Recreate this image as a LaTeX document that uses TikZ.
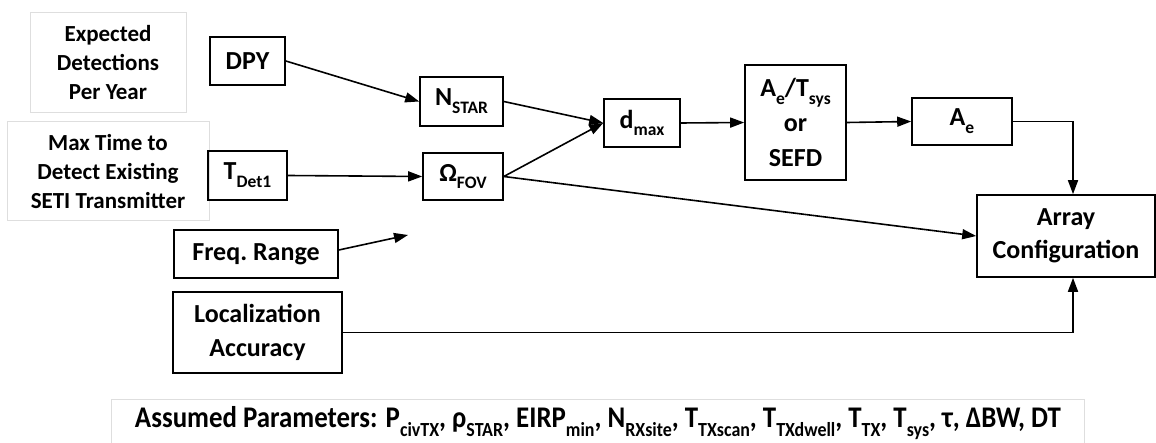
\documentclass[tikz,border=0pt]{standalone}
\usepackage{fontspec}
\setmainfont{Carlito}
\usepackage{graphicx}
\usetikzlibrary{arrows.meta,calc}
\newcommand{\sbs}[1]{\raisebox{-0.3em}{\fontsize{17.5}{17.5}\selectfont #1}}
\newcommand{\sbsb}[1]{\raisebox{-0.3em}{\fontsize{20}{20}\selectfont #1}}
\begin{document}
\begin{tikzpicture}[x=1pt,y=-1pt,
  every node/.style={font=\fontsize{26}{33}\selectfont\bfseries, align=center, inner sep=0pt},
  blk/.style={draw=black, line width=1.6pt},
  gbox/.style={draw=black!13, line width=1pt, font=\fontsize{23}{29}\selectfont\bfseries},
  arr/.style={line width=1.6pt, -{Triangle[length=14pt,width=10pt]}}]
\useasboundingbox (0,0) rectangle (1156,443);
\node[gbox, minimum width=156pt, minimum height=100pt] (exp) at (108,63) {Expected\\Detections\\Per Year};
\node[gbox, minimum width=202pt, minimum height=99pt] (maxt) at (108,171.5) {Max Time to\\Detect Existing\\SETI Transmitter};
\node[blk, minimum width=75pt, minimum height=48pt] (dpy) at (247.5,61) {DPY};
\node[blk, minimum width=79pt, minimum height=49pt] (tdet) at (247.5,175.5) {T\sbs{Det1}};
\node[blk, minimum width=83pt, minimum height=49pt] (nstar) at (461.5,101.5) {N\sbs{STAR}};
\node[blk, minimum width=80pt, minimum height=47pt] (omega) at (463,176.5) {Ω\sbs{FOV}};
\node[blk, minimum width=76pt, minimum height=48pt] (dmax) at (642,123) {d\sbs{max}};
\node[blk, minimum width=101pt, minimum height=115pt, font=\fontsize{26}{35}\selectfont\bfseries] (aet) at (795.5,122.5) {A\sbs{e}/T\sbs{sys}\\or\\SEFD};
\node[blk, minimum width=100pt, minimum height=47pt] (ae) at (962,121.5) {A\sbs{e}};
\node[blk, minimum width=178pt, minimum height=82pt] (arr) at (1066,236) {Array\\Configuration};
\node[blk, minimum width=164pt, minimum height=48pt] (freq) at (256,254) {Freq.\ Range};
\node[blk, minimum width=169pt, minimum height=81pt, font=\fontsize{26}{34}\selectfont\bfseries] (loc) at (257.5,332.5) {Localization\\Accuracy};
\node[gbox, minimum width=973pt, minimum height=48pt, anchor=north west, font=\fontsize{30}{32}\selectfont\bfseries] (ass) at (111,399)
  {\raisebox{-5pt}{\resizebox{926pt}{\height}{Assumed Parameters: P\sbsb{civTX}, ρ\sbsb{STAR}, EIRP\sbsb{min}, N\sbsb{RXsite}, T\sbsb{TXscan}, T\sbsb{TXdwell}, T\sbsb{TX}, T\sbsb{sys}, τ, ΔBW, DT}}};
\coordinate (fend) at (408,235);
\draw[arr] (dpy.east) -- (nstar.west);
\draw[arr] (tdet.east) -- (omega.west);
\draw[arr] (nstar.east) -- (dmax.west);
\draw[arr] (omega.east) -- (dmax.west);
\draw[arr] (omega.east) -- (arr.west);
\draw[arr] (dmax.east) -- (aet.west);
\draw[arr] (aet.east) -- (ae.west);
\draw[arr] (ae.east) -| ([xshift=7pt]arr.north);
\draw[arr] ([yshift=4pt]freq.east) -- (fend);
\draw[arr] (loc.east) -| ([xshift=7pt]arr.south);
\end{tikzpicture}
\end{document}
